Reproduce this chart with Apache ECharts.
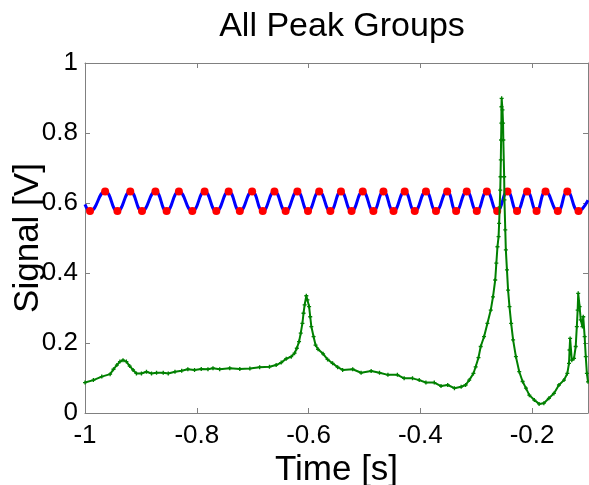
<!DOCTYPE html>
<html>
<head>
<meta charset="utf-8">
<script src="https://cdn.jsdelivr.net/npm/echarts@6/dist/echarts.min.js"></script>
<style>
html,body{margin:0;padding:0;background:#fff;}
#chart{width:589px;height:485px;}
</style>
</head>
<body>
<div id="chart"></div>
<script>
// ---- data ----
const titleText = "All Peak Groups";
const xName = "Time [s]";
const yName = "Signal [V]";
const xTicks = [-1, -0.8, -0.6, -0.4, -0.2];
const yTicks = [0, 0.2, 0.4, 0.6, 0.8, 1];

// reference sine: peaks and troughs (red dots)
const peakTimes = [-0.964,-0.919,-0.874,-0.832,-0.786,-0.743,-0.701,-0.661,-0.620,-0.581,-0.542,-0.503,-0.466,-0.428,-0.390,-0.352,-0.317,-0.281,-0.244,-0.209,-0.176,-0.137];
const troughTimes = [-0.991,-0.942,-0.898,-0.854,-0.808,-0.765,-0.723,-0.682,-0.641,-0.601,-0.561,-0.523,-0.484,-0.448,-0.410,-0.372,-0.336,-0.299,-0.2625,-0.227,-0.192,-0.154,-0.117];
const peakValue = 0.633;
const troughValue = 0.577;
const sineStart = [-1, 0.596];
const sineEnd = [-0.1, 0.608];

// measured signal (green)
const signalT = [-1.000,-0.985,-0.970,-0.955,-0.949,-0.943,-0.9375,-0.932,-0.926,-0.920,-0.914,-0.908,-0.899,-0.890,-0.881,-0.872,-0.860,-0.851,-0.839,-0.827,-0.816,-0.804,-0.792,-0.780,-0.771,-0.759,-0.741,-0.723,-0.705,-0.6875,-0.670,-0.658,-0.649,-0.640,-0.631,-0.625,-0.621,-0.617,-0.614,-0.611,-0.609,-0.607,-0.604,-0.602,-0.599,-0.597,-0.595,-0.591,-0.5875,-0.583,-0.574,-0.566,-0.557,-0.548,-0.539,-0.521,-0.506,-0.488,-0.473,-0.458,-0.441,-0.429,-0.414,-0.402,-0.390,-0.375,-0.363,-0.351,-0.339,-0.327,-0.319,-0.3125,-0.305,-0.301,-0.296,-0.292,-0.286,-0.280,-0.274,-0.270,-0.266,-0.264,-0.262,-0.260,-0.259,-0.258,-0.257,-0.2565,-0.256,-0.2555,-0.255,-0.2548,-0.2545,-0.253,-0.252,-0.2515,-0.250,-0.2495,-0.248,-0.247,-0.245,-0.243,-0.2405,-0.2375,-0.234,-0.229,-0.223,-0.217,-0.211,-0.205,-0.196,-0.1875,-0.179,-0.170,-0.161,-0.152,-0.143,-0.137,-0.134,-0.133,-0.132,-0.129,-0.125,-0.122,-0.120,-0.1185,-0.1175,-0.115,-0.113,-0.110,-0.1085,-0.106,-0.104,-0.102,-0.100];
const signalV = [0.087,0.094,0.104,0.111,0.125,0.137,0.147,0.151,0.147,0.134,0.123,0.113,0.113,0.118,0.113,0.115,0.115,0.113,0.118,0.121,0.125,0.123,0.126,0.125,0.128,0.125,0.128,0.126,0.127,0.131,0.132,0.137,0.144,0.155,0.161,0.171,0.185,0.204,0.228,0.256,0.285,0.309,0.335,0.323,0.304,0.275,0.247,0.218,0.194,0.182,0.169,0.153,0.142,0.131,0.123,0.125,0.115,0.120,0.115,0.109,0.109,0.099,0.099,0.094,0.087,0.087,0.077,0.080,0.071,0.075,0.080,0.094,0.113,0.132,0.158,0.190,0.218,0.256,0.294,0.332,0.380,0.428,0.475,0.504,0.542,0.589,0.637,0.675,0.723,0.780,0.828,0.875,0.899,0.866,0.828,0.780,0.675,0.609,0.523,0.466,0.409,0.351,0.304,0.256,0.209,0.161,0.118,0.090,0.071,0.051,0.037,0.026,0.028,0.042,0.056,0.080,0.094,0.113,0.142,0.180,0.213,0.151,0.156,0.190,0.247,0.294,0.342,0.304,0.266,0.247,0.275,0.218,0.161,0.113,0.089];

// ---- build ----
const peakPts = peakTimes.map(t => [t, peakValue]);
const troughPts = troughTimes.map(t => [t, troughValue]);
const extrema = peakPts.concat(troughPts).sort((a, b) => a[0] - b[0]);
const sineLine = [sineStart].concat(extrema, [sineEnd]);
const signalPts = signalT.map((t, i) => [t, signalV[i]]);

const FONT = '"Liberation Sans", Arial, Helvetica, sans-serif';
const axisGrey = '#808080';
const xFmt = v => xTicks.some(t => Math.abs(t - v) < 1e-6) ? String(Math.round(v * 10) / 10) : '';
const yFmt = v => yTicks.some(t => Math.abs(t - v) < 1e-6) ? String(Math.round(v * 10) / 10) : '';

const chart = echarts.init(document.getElementById('chart'), null, {renderer: 'canvas'});
chart.setOption({
  animation: false,
  backgroundColor: '#ffffff',
  title: {
    text: titleText, left: 337, top: 5, textAlign: 'center',
    textStyle: {fontFamily: FONT, fontSize: 34, fontWeight: 'normal', color: '#000'}
  },
  grid: {left: 85, right: 1, top: 63, bottom: 72, containLabel: false, outerBoundsMode: 'none'},
  xAxis: [{
    type: 'value', min: -1, max: -0.1, interval: 0.2, position: 'bottom',
    name: xName, nameLocation: 'middle', nameGap: 40, nameMoveOverlap: false,
    nameTextStyle: {fontFamily: FONT, fontSize: 35, color: '#000'},
    axisLine: {show: true, onZero: false, lineStyle: {color: axisGrey, width: 1}},
    axisTick: {show: true, inside: true, length: 5, lineStyle: {color: axisGrey}},
    axisLabel: {fontFamily: FONT, fontSize: 26, color: '#000', margin: 10, formatter: xFmt},
    splitLine: {show: false}
  }, {
    type: 'value', min: -1, max: -0.1, interval: 0.2, position: 'top',
    axisLine: {show: true, onZero: false, lineStyle: {color: axisGrey, width: 1}},
    axisTick: {show: true, inside: true, length: 5, lineStyle: {color: axisGrey}},
    axisLabel: {show: false}, splitLine: {show: false}
  }],
  yAxis: [{
    type: 'value', min: 0, max: 1, interval: 0.2, position: 'left',
    name: yName, nameLocation: 'middle', nameGap: 39, nameMoveOverlap: false,
    nameTextStyle: {fontFamily: FONT, fontSize: 35, color: '#000'},
    axisLine: {show: true, onZero: false, lineStyle: {color: axisGrey, width: 1}},
    axisTick: {show: true, inside: true, length: 5, lineStyle: {color: axisGrey}},
    axisLabel: {fontFamily: FONT, fontSize: 26, color: '#000', margin: 7, formatter: yFmt},
    splitLine: {show: false}
  }, {
    type: 'value', min: 0, max: 1, interval: 0.2, position: 'right',
    axisLine: {show: true, onZero: false, lineStyle: {color: axisGrey, width: 1}},
    axisTick: {show: true, inside: true, length: 5, lineStyle: {color: axisGrey}},
    axisLabel: {show: false}, splitLine: {show: false}
  }],
  series: [{
    type: 'line', data: sineLine, smooth: 0.5, showSymbol: false, symbol: 'none',
    lineStyle: {color: '#0000ff', width: 3}, z: 2
  }, {
    type: 'scatter', data: extrema, symbol: 'circle', symbolSize: 8,
    itemStyle: {color: '#ff0000', opacity: 1}, z: 3
  }, {
    type: 'line', data: signalPts, smooth: false,
    symbol: 'path://M1,0H2V1H3V2H2V3H1V2H0V1H1Z', symbolSize: 4, showSymbol: true,
    itemStyle: {color: '#008000'},
    lineStyle: {color: '#008000', width: 2}, z: 4
  }]
});
</script>
</body>
</html>
